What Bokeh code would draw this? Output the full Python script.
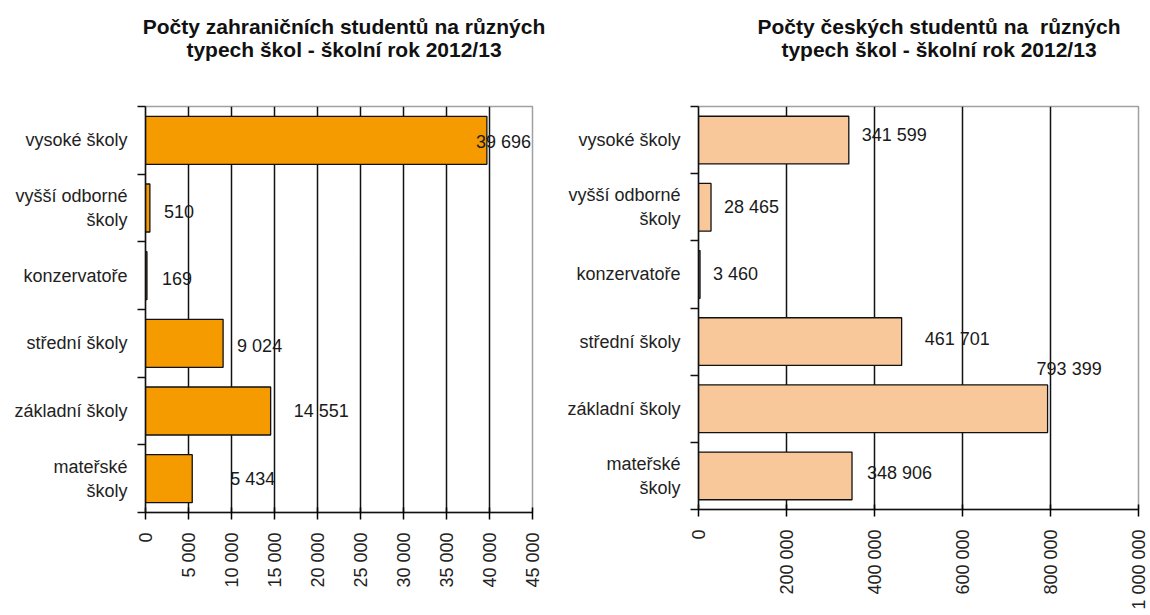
import math
from bokeh.plotting import figure
from bokeh.layouts import row, column
from bokeh.models import (Range1d, FixedTicker, CustomJSTickFormatter, ColumnDataSource,
                          LabelSet, Div)
from bokeh.core.properties import value
from bokeh.embed import file_html
from bokeh.resources import INLINE

categories = ["vysoké školy", "vyšší odborné\nškoly", "konzervatoře",
              "střední školy", "základní školy", "mateřské\nškoly"]
foreign = [39696, 510, 169, 9024, 14551, 5434]
czech = [341599, 28465, 3460, 461701, 793399, 348906]
foreign_ticks = [0, 5000, 10000, 15000, 20000, 25000, 30000, 35000, 40000, 45000]
czech_ticks = [0, 200000, 400000, 600000, 800000, 1000000]

foreign_title = ["Počty zahraničních studentů na různých", "typech škol - školní rok 2012/13"]
czech_title = ["Počty českých studentů na  různých", "typech škol - školní rok 2012/13"]

# label placement styles (pixels)
foreign_xoff = [-11, 14, 15, 14, 23, 38]
foreign_yoff = [-2, -3, -3, -3, 0, 0]
czech_xoff = [13, 13, 13, 23, -11, 15]
czech_yoff = [5, 0, 0, 3, 40, 3]

FONT = "Liberation Sans"
fmt_code = """
var s = Math.round(tick).toString();
return s.replace(/\\B(?=(\\d{3})+(?!\\d))/g, " ");
"""
TITLE_H = 62


def fmt(v):
    return "{:,}".format(v).replace(",", " ")


def make_title(lines, width, pad_left):
    html = ('<div style="box-sizing:border-box;width:%dpx;padding:15px 0 0 %dpx;'
            'text-align:center;font-family:\'Liberation Sans\';font-weight:bold;'
            'font-size:21px;line-height:23px;color:#111111;white-space:pre;">%s<br>%s</div>'
            % (width, pad_left, lines[0], lines[1]))
    return Div(text=html, width=width, height=TITLE_H, margin=(0, 0, 0, 0))


def make(vals, ticks, color, xoff, yoff, width, bl, br):
    n = len(categories)
    centers = [n - i - 0.5 for i in range(n)]
    p = figure(width=width, height=612 - TITLE_H, output_backend="svg",
               toolbar_location=None,
               x_range=Range1d(ticks[0], ticks[-1]), y_range=Range1d(0, n),
               min_border_left=bl, min_border_right=br, min_border_top=106 - TITLE_H,
               min_border_bottom=100, margin=(0, 0, 0, 0))
    p.title = None

    src = ColumnDataSource(dict(y=centers, v=vals, lab=[fmt(v) for v in vals],
                                xo=xoff, yo=yoff))
    p.hbar(y="y", right="v", left=0, height=0.71, source=src,
           fill_color=color, line_color="#111111", line_width=1.3)
    p.add_layout(LabelSet(x="v", y="y", text="lab", x_offset="xo", y_offset="yo",
                          source=src, text_font=value(FONT), text_font_size="18px",
                          text_baseline="middle", text_align="left",
                          text_color="#1a1a1a"))

    p.outline_line_color = "#a0a0a0"
    p.outline_line_width = 1.5
    p.ygrid.grid_line_color = None
    p.xgrid.grid_line_color = "#111111"
    p.xgrid.grid_line_width = 1.5
    p.xgrid.ticker = FixedTicker(ticks=ticks)

    xa = p.xaxis[0]
    xa.ticker = FixedTicker(ticks=ticks)
    xa.formatter = CustomJSTickFormatter(code=fmt_code)
    xa.major_label_orientation = math.pi / 2
    xa.major_label_text_font = FONT
    xa.major_label_text_font_size = "18px"
    xa.major_label_text_color = "#222222"
    xa.major_label_standoff = 13
    xa.major_tick_in = 5
    xa.major_tick_out = 7
    xa.minor_tick_line_color = None
    xa.axis_line_color = "#111111"
    xa.axis_line_width = 1.5
    xa.major_tick_line_width = 1.5

    ya = p.yaxis[0]
    ya.ticker = FixedTicker(ticks=centers, minor_ticks=list(range(n + 1)))
    ya.major_label_overrides = {c: categories[i] for i, c in enumerate(centers)}
    ya.major_tick_line_color = None
    ya.minor_tick_out = 8
    ya.minor_tick_in = 0
    ya.minor_tick_line_width = 1.5
    ya.minor_tick_line_color = "#111111"
    ya.axis_line_color = "#111111"
    ya.axis_line_width = 1.5
    ya.major_label_text_font = FONT
    ya.major_label_text_font_size = "18px"
    ya.major_label_text_color = "#222222"
    ya.major_label_standoff = 10
    return p


p1 = make(foreign, foreign_ticks, "#F59B00", foreign_xoff, foreign_yoff, 564, 145, 32)
p2 = make(czech, czech_ticks, "#F8C89A", czech_xoff, czech_yoff, 584, 134, 10)
t1 = make_title(foreign_title, 564, 124)
t2 = make_title(czech_title, 584, 166)

layout = row(column(t1, p1, spacing=0), column(t2, p2, spacing=0), spacing=0)
open("out.html", "w").write(file_html(layout, INLINE))
